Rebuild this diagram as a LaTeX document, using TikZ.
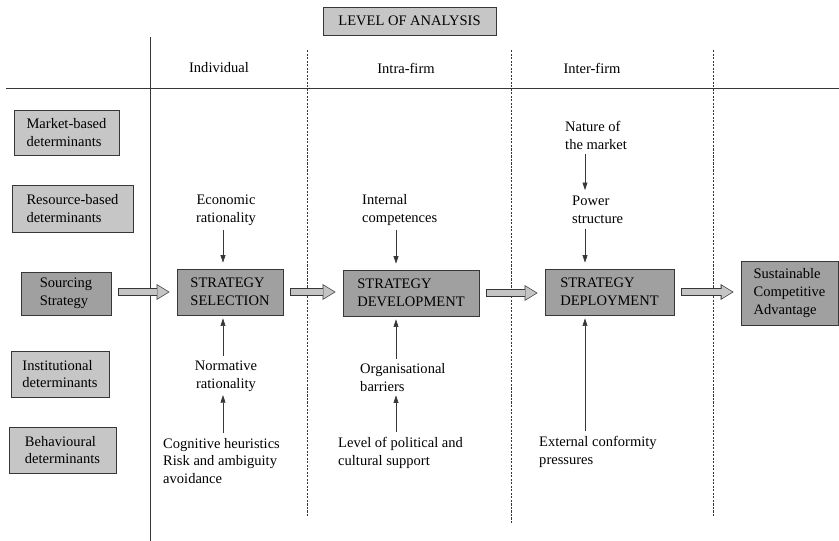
\documentclass[tikz,border=0pt]{standalone}
\usepackage{fontspec}
\setmainfont{Liberation Serif}
\usetikzlibrary{arrows.meta,positioning}
\definecolor{scanlight}{RGB}{198,198,198}
\definecolor{scandark}{RGB}{160,160,160}
\definecolor{scanarrow}{RGB}{196,196,196}
\definecolor{scanink}{RGB}{55,55,55}

\begin{document}
\begin{tikzpicture}[x=0.03cm,y=-0.03cm,
  font=\fontsize{12.4}{15.3}\selectfont,
  det/.style={rectangle,draw=scanink,fill=scanlight,align=left,line width=0.7pt},
  strat/.style={rectangle,draw=scanink,fill=scandark,align=left,line width=0.7pt,
    minimum height=1.38cm},
  cue/.style={inner sep=0pt,align=left},
  arr/.style={-{Triangle[length=6.5pt,width=4.2pt]},line width=0.6pt,draw=scanink,
    shorten <=4pt,shorten >=5pt},
  fat/.style={line width=7pt,draw=scanink,
    -{Triangle[length=11pt,width=13.5pt,line width=0pt]},shorten <=6pt,shorten >=6pt,
    postaction={draw=scanarrow,line width=5.8pt,
      -{Triangle[length=9.2pt,width=11.3pt,line width=0pt]},
      shorten <=6.6pt,shorten >=7.1pt}},
  axis/.style={draw=scanink,line width=0.8pt},
  divider/.style={draw=scanink,line width=0.5pt,dash pattern=on 1.8pt off 1.2pt}
]
\useasboundingbox (0,0) rectangle (839,541);

% grid of the table
\draw[axis] (150,37) -- (150,541);
\draw[axis] (6,88) -- (839,88);
\foreach \x/\y in {307/517,511/523,713/517}
  \draw[divider] (\x,50) -- (\x,\y);

\node[det,align=center,minimum width=5.19cm,minimum height=0.84cm] (level) at (409.5,21) {LEVEL OF ANALYSIS};
\node (indiv) at (219,68) {Individual};
\node (intra) at (406,68) {Intra-firm};
\node (inter) at (592,68) {Inter-firm};

% determinants column
\node[det,minimum width=3.15cm,minimum height=1.35cm] (market) at (66.5,132.5) {Market-based\\determinants};
\node[det,minimum width=3.63cm,minimum height=1.41cm] (resource) at (72.5,208.5) {Resource-based\\determinants};
\node[det,fill=scandark,minimum width=2.70cm,minimum height=1.29cm] (sourcing) at (66,293.5) {Sourcing\\Strategy};
\node[det,minimum width=2.94cm,minimum height=1.38cm] (inst) at (60,374) {Institutional\\determinants};
\node[det,minimum width=3.21cm,minimum height=1.38cm] (behav) at (62.5,450) {Behavioural\\determinants};

% strategy chain
\node[strat,minimum width=3.18cm] (sel) at (230,292) {STRATEGY\\SELECTION};
\node[strat,minimum width=4.08cm] (dev) at (411,293) {STRATEGY\\DEVELOPMENT};
\node[strat,minimum width=3.87cm] (dep) at (609.5,292) {STRATEGY\\DEPLOYMENT};
\node[strat,minimum width=2.91cm,minimum height=1.92cm] (sca) at (789.5,293) {Sustainable\\Competitive\\Advantage};

% influences
\node[cue,align=center] (econ) at (226,210) {Economic\\rationality};
\node[cue,align=center] (norm) at (226,376) {Normative\\rationality};
\node[cue,anchor=west] (cog) at (163,461) {Cognitive heuristics\\Risk and ambiguity\\avoidance};
\node[cue,anchor=west] (intcomp) at (362,210) {Internal\\competences};
\node[cue,anchor=west] (orgbar) at (360,377.5) {Organisational\\barriers};
\node[cue,anchor=west] (polsup) at (338,453) {Level of political and\\cultural support};
\node[cue,anchor=west] (nature) at (565,135) {Nature of\\the market};
\node[cue,anchor=west] (power) at (572,210) {Power\\structure};
\node[cue,anchor=west] (extconf) at (539,452) {External conformity\\pressures};

\coordinate (selx) at (223,0);
\coordinate (devx) at (396,0);
\coordinate (depx) at (585,0);

\draw[arr] (selx |- econ.south) -- (selx |- sel.north);
\draw[arr,shorten >=2.5pt] (selx |- norm.north) -- (selx |- sel.south);
\draw[arr,shorten >=3pt] (selx |- cog.north) -- (selx |- norm.south);
\draw[arr] (devx |- intcomp.south) -- (devx |- dev.north);
\draw[arr,shorten >=2.5pt] (devx |- orgbar.north) -- (devx |- dev.south);
\draw[arr,shorten >=3pt] (devx |- polsup.north) -- (devx |- orgbar.south);
\draw[arr] (depx |- nature.south) -- (depx |- power.north);
\draw[arr] (depx |- power.south) -- (depx |- dep.north);
\draw[arr,shorten >=2.5pt] (depx |- extconf.north) -- (depx |- dep.south);

\draw[fat] (sel.west -| sourcing.east) -- (sel.west);
\draw[fat] (sel.east) -- (sel.east -| dev.west);
\draw[fat] (dev.east) -- (dev.east -| dep.west);
\draw[fat] (dep.east) -- (dep.east -| sca.west);
\end{tikzpicture}
\end{document}
